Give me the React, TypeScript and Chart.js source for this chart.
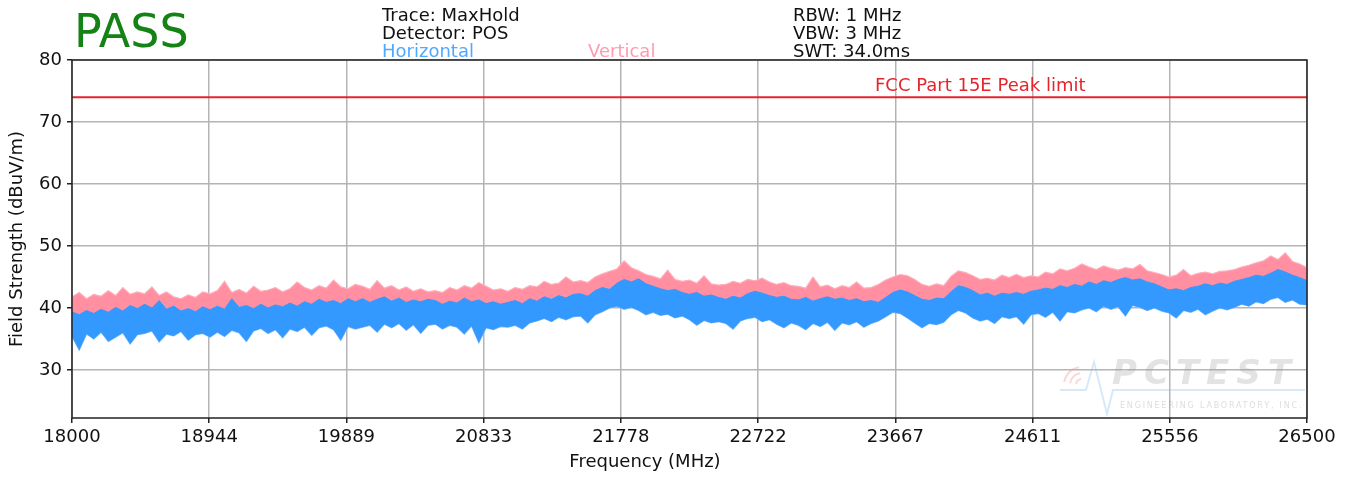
import { useEffect, useRef } from 'react';
import { Chart, registerables } from 'chart.js';

Chart.register(...registerables);

// ---- Data ----
const startFreq = 18000; // MHz, first sample
const stepFreq = 50; // MHz between samples

const xTickValues = [18000, 18944.44, 19888.89, 20833.33, 21777.78, 22722.22, 23666.67, 24611.11, 25555.56, 26500];
const xTickLabels = ['18000', '18944', '19889', '20833', '21778', '22722', '23667', '24611', '25556', '26500'];
const yTickValues = [30, 40, 50, 60, 70, 80];

const limitFreqs = [18000, 26500];
const limitValues = [74, 74];

// Horizontal (blue) trace: upper edge of the MaxHold noise band (dBuV/m)
const horizontalTop = [
  39.4, 38.9, 39.6, 39.1, 39.8, 39.3, 40.1, 39.5, 40.4, 39.9,
  40.6, 40.0, 41.2, 39.8, 40.3, 39.5, 39.9, 39.4, 40.2, 39.7,
  40.3, 39.8, 41.5, 40.1, 40.4, 39.9, 40.6, 40.0, 40.5, 40.2,
  40.8, 40.3, 41.0, 40.6, 41.4, 40.9, 41.2, 40.7, 41.5, 41.0,
  41.5, 40.9, 41.4, 41.8, 41.1, 41.6, 40.9, 41.3, 41.0, 41.4,
  41.2, 40.6, 41.1, 40.8, 41.6, 41.0, 41.3, 40.7, 41.0, 40.6,
  40.9, 41.2, 40.7, 41.5, 41.1, 41.8, 41.4, 42.0, 41.6, 42.2,
  42.3, 41.9, 42.8, 43.3, 43.0, 44.0, 44.6, 44.2, 44.7, 43.9,
  43.5, 43.1, 42.8, 43.0, 42.5, 42.2, 42.5, 41.9, 42.1, 41.7,
  41.4, 41.9, 41.6, 42.3, 42.7, 42.4, 42.0, 41.7, 41.9, 41.4,
  41.3, 41.7, 41.1, 41.5, 41.8, 41.4, 41.6, 41.2, 41.5, 41.0,
  41.2, 40.9, 41.7, 42.5, 42.9, 42.6, 42.0, 41.4, 41.2, 41.6,
  41.5, 42.6, 43.6, 43.3, 42.8, 42.1, 42.4, 41.9, 42.4, 42.2,
  42.5, 42.2, 42.7, 42.9, 43.2, 43.0, 43.6, 43.3, 43.8, 43.5,
  44.2, 43.8, 44.4, 44.1, 44.6, 44.9, 44.5, 44.7, 44.2, 43.9,
  43.4, 42.9, 43.1, 42.8, 43.3, 43.5, 43.9, 43.6, 44.0, 43.8,
  44.3, 44.6, 44.9, 45.3, 45.1, 45.6, 46.2, 45.8, 45.3, 44.9,
  44.4,
];

// Horizontal (blue) trace: lower edge of the noise band
const horizontalBottom = [
  35.4, 33.2, 35.8, 35.0, 36.1, 34.6, 35.3, 36.0, 34.2, 35.7,
  35.9, 36.3, 34.5, 35.8, 35.5, 36.2, 34.8, 35.7, 35.9, 35.3,
  36.1, 35.4, 36.4, 36.0, 34.6, 36.3, 36.7, 35.9, 36.5, 35.2,
  36.6, 36.2, 36.9, 35.6, 36.8, 37.1, 36.5, 34.8, 37.0, 36.6,
  36.9, 37.2, 36.1, 37.4, 36.8, 37.5, 36.4, 37.3, 35.9, 37.2,
  37.4, 36.6, 37.2, 36.9, 35.8, 37.1, 34.4, 36.8, 36.5, 37.0,
  36.9, 37.2, 36.6, 37.6, 37.9, 38.3, 37.8, 38.5, 38.1, 38.6,
  38.7, 37.6, 38.9, 39.4, 40.0, 40.3, 39.8, 40.1, 39.6, 38.9,
  39.3, 38.8, 39.0, 38.4, 38.7, 38.1, 37.2, 38.0, 37.6, 37.8,
  37.5, 36.6, 37.9, 38.3, 38.5, 37.8, 38.1, 37.4, 36.8, 37.6,
  37.2, 36.5, 37.5, 37.0, 37.7, 36.4, 37.6, 37.3, 37.8, 36.9,
  37.5, 37.9, 38.6, 39.3, 39.1, 38.4, 37.6, 36.8, 37.5, 37.3,
  37.7, 38.9, 39.6, 39.2, 38.4, 37.9, 38.2, 37.5, 38.6, 38.3,
  38.6, 37.4, 38.9, 39.1, 38.5, 39.3, 37.9, 39.4, 39.2, 39.7,
  40.0, 39.4, 40.3, 39.8, 40.2, 38.7, 40.4, 40.1, 39.6, 40.0,
  39.5, 39.2, 38.4, 39.6, 39.3, 39.8, 38.9, 39.5, 40.0, 39.7,
  40.1, 40.6, 40.3, 41.0, 40.7, 41.4, 41.7, 40.9, 41.3, 40.6,
  40.5,
];

// Vertical (pink) trace: upper edge of the noise band
const verticalTop = [
  41.8, 42.5, 41.5, 42.2, 41.9, 42.8, 42.0, 43.3, 42.2, 42.6,
  42.3, 43.4, 42.0, 42.6, 41.8, 41.5, 42.1, 41.7, 42.6, 42.3,
  42.8, 44.3, 42.5, 43.0, 42.4, 43.5, 42.7, 42.9, 43.3, 42.6,
  43.1, 44.2, 43.3, 42.9, 43.6, 43.2, 44.5, 43.4, 43.1, 43.8,
  43.5, 43.0, 44.4, 43.2, 43.6, 42.9, 43.4, 42.7, 43.1, 42.6,
  42.8, 42.5, 43.3, 42.9, 43.6, 43.2, 44.1, 43.5, 42.9, 43.1,
  42.7, 43.3, 43.0, 43.6, 43.4, 44.3, 43.8, 44.0, 45.0, 44.2,
  44.4, 44.1, 45.0, 45.5, 45.9, 46.3, 47.6, 46.5, 46.0, 45.4,
  45.1, 44.7, 46.1, 44.6, 44.3, 44.5, 44.0, 45.2, 43.9, 43.7,
  43.8, 44.3, 44.0, 44.6, 44.4, 44.8, 44.2, 43.8, 44.1, 43.6,
  43.5, 43.2, 45.0, 43.4, 43.7, 43.1, 43.6, 43.3, 44.2, 43.2,
  43.3, 43.8, 44.5, 45.0, 45.4, 45.2, 44.6, 43.8, 43.5, 43.9,
  43.6, 45.1, 46.0, 45.7, 45.2, 44.6, 44.8, 44.5, 45.3, 44.9,
  45.4, 44.9, 45.2, 45.0, 45.8, 45.5, 46.3, 46.0, 46.4, 47.1,
  46.6, 46.2, 46.8, 46.4, 46.1, 46.5, 46.3, 47.0, 46.0, 45.7,
  45.4, 45.0, 45.3, 46.2, 45.2, 45.6, 45.8, 45.5, 45.9, 46.0,
  46.2, 46.6, 46.9, 47.3, 47.6, 48.4, 47.8, 48.9, 47.5, 47.1,
  46.5,
];

const BLUE = '#3399ff';
const BLUE_EDGE = '#7cbcff';
const PINK = '#ff8fa1';
const PINK_EDGE = '#ffadba';
const RED = '#e3262d';
const FONT = "'DejaVu Sans', sans-serif";

const toPoints = (vals: number[]) => vals.map((y, i) => ({ x: startFreq + i * stepFreq, y }));

const annotationsPlugin = {
  id: 'annotations',
  afterDraw(chart: any) {
    const { ctx, chartArea } = chart;
    const { left, right, top, bottom } = chartArea;
    ctx.save();
    // frame
    ctx.strokeStyle = '#222';
    ctx.lineWidth = 1.5;
    ctx.strokeRect(left, top, right - left, bottom - top);

    // watermark
    ctx.globalAlpha = 0.35;
    ctx.strokeStyle = '#8cc0ea';
    ctx.lineWidth = 2;
    ctx.beginPath();
    ctx.moveTo(1060, 390);
    ctx.lineTo(1086, 390);
    ctx.lineTo(1094, 362);
    ctx.lineTo(1107, 414);
    ctx.lineTo(1113, 390);
    ctx.lineTo(1305, 390);
    ctx.stroke();
    ctx.strokeStyle = '#f09090';
    ctx.lineWidth = 2;
    for (let r = 6; r <= 18; r += 6) {
      ctx.beginPath();
      ctx.arc(1082, 385, r, Math.PI * 1.05, Math.PI * 1.45);
      ctx.stroke();
    }
    ctx.globalAlpha = 0.28;
    ctx.fillStyle = '#9a9a9a';
    ctx.font = `italic bold 34px ${FONT}`;
    ctx.textBaseline = 'alphabetic';
    ctx.textAlign = 'left';
    (ctx as any).letterSpacing = '7px';
    ctx.fillText('PCTEST', 1112, 384);
    ctx.globalAlpha = 0.35;
    ctx.font = `8px ${FONT}`;
    (ctx as any).letterSpacing = '1.8px';
    ctx.fillText('ENGINEERING LABORATORY, INC.', 1120, 408);
    (ctx as any).letterSpacing = '0px';
    ctx.globalAlpha = 1;

    // limit label
    ctx.fillStyle = RED;
    ctx.font = `18px ${FONT}`;
    ctx.fillText('FCC Part 15E Peak limit', 875, 91);

    // x axis title (centred on the figure like the reference)
    ctx.fillStyle = '#111';
    ctx.textAlign = 'center';
    ctx.fillText('Frequency (MHz)', 645, 467);
    ctx.textAlign = 'left';

    // PASS
    ctx.fillStyle = '#148214';
    ctx.font = `46px ${FONT}`;
    ctx.fillText('PASS', 74, 47);

    // header info
    ctx.font = `18px ${FONT}`;
    ctx.fillStyle = '#111';
    ctx.fillText('Trace: MaxHold', 382, 21);
    ctx.fillText('Detector: POS', 382, 39);
    ctx.fillText('RBW: 1 MHz', 793, 21);
    ctx.fillText('VBW: 3 MHz', 793, 39);
    ctx.fillText('SWT: 34.0ms', 793, 57);
    ctx.fillStyle = '#52a8ff';
    ctx.fillText('Horizontal', 382, 57);
    ctx.fillStyle = '#ff9bb0';
    ctx.fillText('Vertical', 588, 57);
    ctx.restore();
  },
};

export default function App() {
  const ref = useRef<HTMLCanvasElement | null>(null);

  useEffect(() => {
    if (!ref.current) return;
    const chart = new Chart(ref.current, {
      type: 'line',
      data: {
        datasets: [
          {
            label: 'Horizontal',
            data: toPoints(horizontalTop),
            borderColor: BLUE,
            backgroundColor: BLUE,
            borderWidth: 1,
            pointRadius: 0,
            fill: '+1',
          },
          {
            label: 'Horizontal floor',
            data: toPoints(horizontalBottom),
            borderColor: BLUE_EDGE,
            backgroundColor: BLUE,
            borderWidth: 1.2,
            pointRadius: 0,
            fill: false,
          },
          {
            label: 'Vertical',
            data: toPoints(verticalTop),
            borderColor: PINK_EDGE,
            backgroundColor: PINK,
            borderWidth: 1.2,
            pointRadius: 0,
            fill: 1,
          },
          {
            label: 'FCC Part 15E Peak limit',
            data: limitFreqs.map((x, i) => ({ x, y: limitValues[i] })),
            borderColor: RED,
            borderWidth: 2,
            pointRadius: 0,
            fill: false,
          },
        ],
      },
      options: {
        animation: false,
        responsive: true,
        maintainAspectRatio: false,
        layout: { padding: { top: 60, right: 44, left: 0, bottom: 0 } },
        plugins: {
          legend: { display: false },
          tooltip: { enabled: false },
        },
        scales: {
          x: {
            type: 'linear',
            min: 18000,
            max: 26500,
            afterBuildTicks: (s: any) => {
              s.ticks = xTickValues.map((v) => ({ value: v }));
            },
            afterFit: (s: any) => {
              s.height = 59;
            },
            ticks: {
              autoSkip: false,
              maxRotation: 0,
              minRotation: 0,
              padding: 4,
              color: '#111',
              font: { family: FONT, size: 18 },
              callback: (_v: any, i: number) => xTickLabels[i],
            },
            grid: { color: '#b4b4b4', lineWidth: 1.5, tickColor: '#222', tickLength: 5 },
            border: { display: false },
            title: { display: false },
          },
          y: {
            min: 22.26,
            max: 80,
            afterBuildTicks: (s: any) => {
              s.ticks = yTickValues.map((v) => ({ value: v }));
            },
            afterFit: (s: any) => {
              s.width = 72;
            },
            ticks: {
              padding: 5,
              color: '#111',
              font: { family: FONT, size: 18 },
            },
            grid: { color: '#b4b4b4', lineWidth: 1.5, tickColor: '#222', tickLength: 5 },
            border: { display: false },
            title: {
              display: true,
              text: 'Field Strength (dBuV/m)',
              color: '#111',
              font: { family: FONT, size: 18 },
              padding: { top: 7, bottom: 0 },
            },
          },
        },
      },
      plugins: [annotationsPlugin],
    });
    return () => chart.destroy();
  }, []);

  return (
    <div style={{ position: 'fixed', left: 0, top: 0, width: 1351, height: 477, background: '#fff' }}>
      <canvas ref={ref} />
    </div>
  );
}
